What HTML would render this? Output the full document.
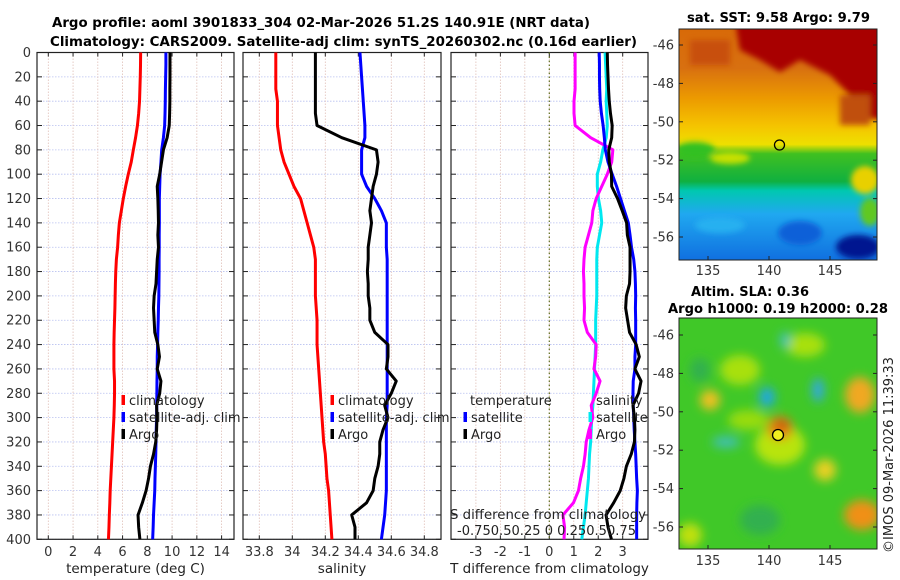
<!DOCTYPE html>
<html><head><meta charset="utf-8"><style>
body{margin:0;background:#fff;}
svg{display:block;font-family:"DejaVu Sans","Liberation Sans",sans-serif;}
</style></head><body>
<svg id="fig" width="900" height="580" viewBox="0 0 900 580" xmlns="http://www.w3.org/2000/svg">
<defs>
<filter id="blur6" x="-20%" y="-20%" width="140%" height="140%"><feGaussianBlur stdDeviation="5"/></filter>
<filter id="blur4" x="-30%" y="-30%" width="160%" height="160%"><feGaussianBlur stdDeviation="3"/></filter>
<clipPath id="clipTop"><rect x="679" y="29" width="198" height="231"/></clipPath>
<clipPath id="clipBot"><rect x="679" y="318" width="198" height="231"/></clipPath>
<linearGradient id="sstGrad" x1="0" y1="0" x2="0" y2="1">
<stop offset="0" stop-color="#d86a08"/><stop offset="0.17" stop-color="#d87010"/>
<stop offset="0.3" stop-color="#ec9a00"/><stop offset="0.42" stop-color="#f5c400"/>
<stop offset="0.5" stop-color="#eee000"/><stop offset="0.54" stop-color="#40c020"/>
<stop offset="0.66" stop-color="#10b040"/><stop offset="0.7" stop-color="#00c8b0"/>
<stop offset="0.8" stop-color="#20a8f0"/><stop offset="1" stop-color="#1070e0"/>
</linearGradient>
</defs>
<g id="titles">
<text x="52" y="27" font-size="13" font-weight="bold" textLength="538" lengthAdjust="spacingAndGlyphs">Argo profile: aoml 3901833_304 02-Mar-2026 51.2S 140.91E (NRT data)</text>
<text x="50" y="46" font-size="13" font-weight="bold" textLength="587" lengthAdjust="spacingAndGlyphs">Climatology: CARS2009. Satellite-adj clim: synTS_20260302.nc (0.16d earlier)</text>
</g>
<g id="panels"></g>
<g id="maps">
 <g clip-path="url(#clipTop)">
  <rect x="679" y="29" width="198" height="231" fill="url(#sstGrad)"/>
  <g filter="url(#blur4)">
   <path d="M735 20 L890 20 L890 120 L860 118 L850 95 L830 75 L800 60 L780 72 L760 60 L740 50 Z" fill="#a80000"/>
   <rect x="690" y="40" width="40" height="25" fill="#c85008"/>
   <rect x="840" y="95" width="30" height="30" fill="#c05010"/>
   <ellipse cx="695" cy="150" rx="20" ry="8" fill="#30c020"/>
   <ellipse cx="730" cy="158" rx="20" ry="6" fill="#c8e000"/>
   <ellipse cx="865" cy="180" rx="14" ry="14" fill="#e8d000"/>
   <ellipse cx="870" cy="212" rx="10" ry="14" fill="#60c820"/>
   <ellipse cx="800" cy="233" rx="22" ry="12" fill="#1060d8"/>
   <ellipse cx="858" cy="247" rx="22" ry="12" fill="#001890"/>
   <ellipse cx="720" cy="225" rx="25" ry="8" fill="#28b0f0"/>
  </g>
 </g>
 <rect x="679" y="29" width="198" height="231" fill="none" stroke="#222" stroke-width="1"/>
 <circle cx="779.5" cy="145" r="5" fill="none" stroke="#000" stroke-width="1.3"/>
 <g clip-path="url(#clipBot)">
  <rect x="679" y="318" width="198" height="231" fill="#40c828"/>
  <g filter="url(#blur6)">
   <ellipse cx="740" cy="370" rx="20" ry="15" fill="#a8e010"/>
   <ellipse cx="805" cy="345" rx="20" ry="12" fill="#a8e010"/>
   <ellipse cx="780" cy="445" rx="25" ry="20" fill="#b8e410"/>
   <ellipse cx="748" cy="420" rx="20" ry="10" fill="#98dc10"/>
   <ellipse cx="710" cy="400" rx="10" ry="10" fill="#f0c020"/>
   <ellipse cx="780" cy="428" rx="13" ry="12" fill="#e88818"/>
   <ellipse cx="782" cy="425" rx="7" ry="6" fill="#c85808"/>
   <ellipse cx="860" cy="395" rx="15" ry="18" fill="#f0a820"/>
   <ellipse cx="862" cy="515" rx="18" ry="15" fill="#f09018"/>
   <ellipse cx="825" cy="470" rx="11" ry="11" fill="#e8d020"/>
   <ellipse cx="767" cy="397" rx="8" ry="10" fill="#20a8e0"/>
   <ellipse cx="818" cy="390" rx="6" ry="12" fill="#30a8e0"/>
   <ellipse cx="726" cy="442" rx="14" ry="6" fill="#40c0b0"/>
   <ellipse cx="785" cy="340" rx="5" ry="8" fill="#40c0c0"/>
   <ellipse cx="700" cy="370" rx="10" ry="12" fill="#30b050"/>
   <ellipse cx="760" cy="520" rx="20" ry="15" fill="#30b050"/>
   <ellipse cx="690" cy="535" rx="12" ry="12" fill="#c0e010"/>
  </g>
 </g>
 <rect x="679" y="318" width="198" height="231" fill="none" stroke="#222" stroke-width="1"/>
 <circle cx="778" cy="435" r="5.5" fill="#f0f020" stroke="#000" stroke-width="1.3"/>
 <text x="687" y="22" font-size="13" font-weight="bold" textLength="183" lengthAdjust="spacingAndGlyphs">sat. SST: 9.58 Argo: 9.79</text>
 <text x="691" y="296" font-size="13" font-weight="bold" textLength="118" lengthAdjust="spacingAndGlyphs">Altim. SLA: 0.36</text>
 <text x="668" y="313" font-size="13" font-weight="bold" textLength="220" lengthAdjust="spacingAndGlyphs">Argo h1000: 0.19 h2000: 0.28</text>
 <text transform="translate(893,455) rotate(-90)" text-anchor="middle" font-size="13" fill="#222">©IMOS 09-Mar-2026 11:39:33</text>
 <g id="mapTicks"></g>
</g>
</svg>
<script>
// ---- profile data (depth in m) ----
const depths = [0,10,20,30,40,50,60,70,80,90,100,110,120,130,140,150,160,170,180,190,200,210,220,230,240,250,260,270,280,290,300,310,320,330,340,350,360,370,380,390,400];
const tClim = [7.46,7.45,7.43,7.4,7.37,7.3,7.2,7.05,6.87,6.7,6.46,6.25,6.06,5.9,5.74,5.66,5.6,5.5,5.45,5.42,5.4,5.38,5.35,5.32,5.3,5.3,5.3,5.35,5.35,5.33,5.3,5.25,5.2,5.15,5.1,5.05,5.0,4.97,4.93,4.9,4.86];
const tSat = [9.5,9.5,9.48,9.46,9.45,9.43,9.4,9.3,9.16,9.1,9.03,9.0,8.97,8.97,8.97,8.96,8.96,8.95,8.95,8.94,8.93,8.9,8.88,8.85,8.83,8.8,8.8,8.78,8.77,8.76,8.75,8.72,8.7,8.68,8.65,8.62,8.6,8.55,8.5,8.47,8.43];
const tArgo = [9.83,9.83,9.83,9.82,9.82,9.8,9.77,9.6,9.3,9.15,9.0,8.8,8.85,8.88,8.9,8.85,8.9,8.8,8.75,8.7,8.55,8.5,8.55,8.6,8.85,8.98,8.8,9.1,9.0,8.75,8.78,8.75,8.68,8.5,8.25,8.1,7.9,7.6,7.25,7.3,7.4];
const sClim = [33.9,33.9,33.9,33.9,33.91,33.91,33.91,33.92,33.93,33.95,33.98,34.01,34.05,34.07,34.09,34.11,34.13,34.14,34.14,34.14,34.14,34.145,34.15,34.15,34.15,34.155,34.16,34.165,34.17,34.175,34.18,34.185,34.19,34.2,34.205,34.21,34.22,34.225,34.23,34.235,34.24];
const sSat = [34.41,34.415,34.42,34.425,34.43,34.435,34.44,34.44,34.42,34.42,34.42,34.45,34.5,34.54,34.57,34.57,34.57,34.575,34.575,34.575,34.575,34.575,34.575,34.575,34.575,34.575,34.575,34.575,34.575,34.575,34.57,34.57,34.57,34.57,34.57,34.57,34.57,34.565,34.56,34.55,34.54];
const sArgo = [34.14,34.14,34.14,34.14,34.14,34.14,34.15,34.3,34.51,34.52,34.51,34.49,34.48,34.47,34.48,34.47,34.46,34.46,34.455,34.46,34.46,34.47,34.47,34.5,34.58,34.58,34.57,34.63,34.6,34.56,34.58,34.55,34.53,34.53,34.52,34.5,34.49,34.45,34.36,34.38,34.38];
const depthTicks = [0,20,40,60,80,100,120,140,160,180,200,220,240,260,280,300,320,340,360,380,400];
const tTicks = [0,2,4,6,8,10,12,14];
const sTicks = [33.8,34,34.2,34.4,34.6,34.8];
const sTickLabels = ["33.8","34","34.2","34.4","34.6","34.8"];
const dTTicks = [-3,-2,-1,0,1,2,3];
const latTicks = [-46,-48,-50,-52,-54,-56];
const lonTicks = [135,140,145];

const NS = "http://www.w3.org/2000/svg";
const Y0 = 52.5, Y1 = 539.3;
const yOf = d => Y0 + (d/400)*(Y1-Y0);
function lin(d0,d1,r0,r1){return v => r0 + (v-d0)/(d1-d0)*(r1-r0);}
function mk(parent, tag, attrs){const e=document.createElementNS(NS,tag);for(const k in attrs)e.setAttribute(k,attrs[k]);parent.appendChild(e);return e;}
const root = document.getElementById('panels');

function panel(name, x0, x1, xf, xt, xlabels, xtitle, showY){
  const g = mk(root,'g',{});
  
  
  depthTicks.forEach(d=>{
    const l = mk(g,'line',{x1:x0,x2:x1,y1:yOf(d),y2:yOf(d),stroke:'#b8c0f0','stroke-width':0.8,'stroke-dasharray':'1.5,1.5'});
    
    
  });
  xt.forEach(v=>{
    const x=xf(v);
    const l = mk(g,'line',{x1:x,x2:x,y1:Y0,y2:Y1,stroke:'#e0c0b8','stroke-width':0.8,'stroke-dasharray':'1.5,1.5'});
    
    
  });
  depthTicks.forEach(d=>{
    mk(g,'line',{x1:x0,x2:x0+5,y1:yOf(d),y2:yOf(d),stroke:'#222','stroke-width':1});
    mk(g,'line',{x1:x1-5,x2:x1,y1:yOf(d),y2:yOf(d),stroke:'#222','stroke-width':1});
    if(showY){
      const t = mk(g,'text',{x:x0-6,y:yOf(d)+4.5,'text-anchor':'end','font-size':13,fill:'#333'});
      
      
      t.textContent=d;
    }
  });
  xt.forEach((v,i)=>{
    const x=xf(v);
    mk(g,'line',{x1:x,x2:x,y1:Y1-4,y2:Y1,stroke:'#222','stroke-width':1});
    mk(g,'line',{x1:x,x2:x,y1:Y0,y2:Y0+4,stroke:'#222','stroke-width':1});
    const t = mk(g,'text',{x:x,y:556,'text-anchor':'middle','font-size':13,fill:'#333'});
    
    
    t.textContent = xlabels[i];
  });
  const tt = mk(g,'text',{x:(x0+x1)/2,y:573,'text-anchor':'middle','font-size':13.5,fill:'#222'});
  
  
  tt.textContent = xtitle;
  mk(g,'rect',{x:x0,y:Y0,width:x1-x0,height:Y1-Y0,fill:'none',stroke:'#222','stroke-width':1.2});
  return g;
}
function series(g, name, vals, xf, color){
  let d='';
  vals.forEach((v,i)=>{d += (i?'L':'M') + xf(v).toFixed(2) + ' ' + yOf(depths[i]).toFixed(2);});
  const p = mk(g,'path',{d:d,fill:'none',stroke:color,'stroke-width':3,'stroke-linejoin':'round'});
  
  
}
function legend(g, x, y, color, label, name){
  mk(g,'rect',{x:x-1.5,y:y-10,width:3.5,height:10,fill:color});
  const t = mk(g,'text',{x:x+6,y:y,'font-size':13,fill:'#222'});
  
  
  t.textContent = label;
}

// Panel 1: temperature
const xT = lin(0,14,48.3,221.6);
const g1 = panel('temperature-panel',37,234,xT,tTicks,tTicks.map(String),'temperature (deg C)',true);
series(g1,'temp-climatology-line',tClim,xT,'#ff0000');
series(g1,'temp-satellite-adj-line',tSat,xT,'#0000ff');
series(g1,'temp-argo-line',tArgo,xT,'#000000');
legend(g1,123,405,'#ff0000','climatology','legend-climatology');
legend(g1,123,422,'#0000ff','satellite-adj. clim','legend-satellite-adj');
legend(g1,123,439,'#000000','Argo','legend-argo');

// Panel 2: salinity
const xS = lin(33.8,34.8,259.3,424.3);
const g2 = panel('salinity-panel',243,441,xS,sTicks,sTickLabels,'salinity',false);
series(g2,'sal-climatology-line',sClim,xS,'#ff0000');
series(g2,'sal-satellite-adj-line',sSat,xS,'#0000ff');
series(g2,'sal-argo-line',sArgo,xS,'#000000');
legend(g2,332,405,'#ff0000','climatology','legend-climatology-sal');
legend(g2,332,422,'#0000ff','satellite-adj. clim','legend-satellite-adj-sal');
legend(g2,332,439,'#000000','Argo','legend-argo-sal');

// Panel 3: differences
const xdT = lin(0,3,549.3,622.7);
const xdS = lin(0,0.75,548.5,631.7);
const g3 = panel('difference-panel',451,648,xdT,dTTicks,dTTicks.map(String),'T difference from climatology',false);
const z = mk(g3,'line',{x1:xdT(0),x2:xdT(0),y1:Y0,y2:Y1,stroke:'#607020','stroke-width':1.2,'stroke-dasharray':'1.5,2.5'});


series(g3,'sdiff-satellite-line',sSat.map((v,i)=>v-sClim[i]),xdS,'#00e8f0');
series(g3,'sdiff-argo-line',sArgo.map((v,i)=>v-sClim[i]),xdS,'#ff00ff');
series(g3,'tdiff-satellite-line',tSat.map((v,i)=>v-tClim[i]),xdT,'#0000ff');
series(g3,'tdiff-argo-line',tArgo.map((v,i)=>v-tClim[i]),xdT,'#000000');
const lt = mk(g3,'text',{x:470,y:405,'font-size':13,fill:'#222'}); lt.textContent='temperature';


legend(g3,465,422,'#0000ff','satellite','legend-t-satellite');
legend(g3,465,439,'#000000','Argo','legend-t-argo');
const ls = mk(g3,'text',{x:596,y:405,'font-size':13,fill:'#222'}); ls.textContent='salinity';


legend(g3,590,422,'#00e8f0','satellite','legend-s-satellite');
legend(g3,590,439,'#ff00ff','Argo','legend-s-argo');
const st = mk(g3,'text',{x:450,y:519,'font-size':13,fill:'#222',textLength:'196',lengthAdjust:'spacingAndGlyphs'}); st.textContent='S difference from climatology';


const sl = mk(g3,'text',{x:457,y:535,'font-size':13,fill:'#222',textLength:'179',lengthAdjust:'spacingAndGlyphs'}); sl.textContent='-0.750.50.25 0 0.250.50.75';



// Map ticks
const mt = document.getElementById('mapTicks');
const lonX = lin(135,145,708,830);
[[29,260,lin(-46,-56,45,237),275],[318,549,lin(-46,-56,335,527),565]].forEach(([top,bot,latY,ly],k)=>{
  latTicks.forEach(v=>{
    const y=latY(v);
    mk(mt,'line',{x1:679,x2:683,y1:y,y2:y,stroke:'#222'});
    mk(mt,'line',{x1:873,x2:877,y1:y,y2:y,stroke:'#222'});
    const t=mk(mt,'text',{x:674,y:y+4.5,'text-anchor':'end','font-size':13,fill:'#333'});
    
    
    t.textContent=v;
  });
  lonTicks.forEach(v=>{
    const x=lonX(v);
    mk(mt,'line',{x1:x,x2:x,y1:bot-4,y2:bot,stroke:'#222'});
    const t=mk(mt,'text',{x:x,y:ly,'text-anchor':'middle','font-size':13,fill:'#333'});
    
    
    t.textContent=v;
  });
});
</script>
</body></html>
